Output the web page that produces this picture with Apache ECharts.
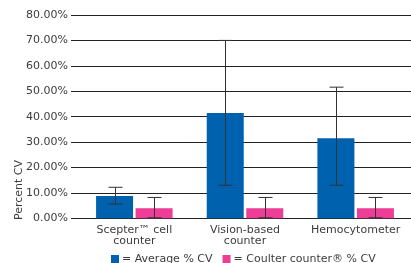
<!DOCTYPE html>
<html>
<head>
<meta charset="utf-8">
<script src="https://cdn.jsdelivr.net/npm/echarts@6/dist/echarts.min.js"></script>
<style>
  html, body { margin: 0; padding: 0; background: #fff; }
  #chart { width: 411px; height: 263px; }
</style>
</head>
<body>
<div id="chart"></div>
<script>
// --- data ---
const categories = ['Scepter™ cell\ncounter', 'Vision-based\ncounter', 'Hemocytometer']
const avgCV = [8.8, 41.4, 31.5]
const avgLow = [5.6, 13.0, 13.0]
const avgHigh = [12.2, 70.0, 51.6]
const coulterCV = [4.0, 4.0, 4.0]
const coulterLow = [0.2, 0.2, 0.2]
const coulterHigh = [8.2, 8.2, 8.2]
const yTicks = [0, 10, 20, 30, 40, 50, 60, 70, 80]

const BLUE = '#0062ae'
const PINK = '#ee3d96'
const TEXT = '#3c3c3c'
const FONT = 'DejaVu Sans'
const barW = 37
const gap = 2.5

const chart = echarts.init(document.getElementById('chart'))

// error bar drawn at a given horizontal offset from the category centre
const errorBars = (low, high, offset) => ({
  type: 'custom',
  silent: true,
  z: 5,
  data: categories.map((c, i) => [i, low[i], high[i]]),
  renderItem: (params, api) => {
    const lo = api.coord([api.value(0), api.value(1)])
    const hi = api.coord([api.value(0), api.value(2)])
    const x = Math.round(lo[0] + offset) + 0.5
    const cap = 7
    const style = { stroke: '#333', lineWidth: 1 }
    return {
      type: 'group',
      children: [
        { type: 'line', shape: { x1: x, y1: hi[1], x2: x, y2: lo[1] }, style },
        { type: 'line', shape: { x1: x - cap, y1: hi[1], x2: x + cap, y2: hi[1] }, style },
        { type: 'line', shape: { x1: x - cap, y1: lo[1], x2: x + cap, y2: lo[1] }, style }
      ]
    }
  }
})

const shift = (barW + gap) / 2

chart.setOption({
  animation: false,
  textStyle: { fontFamily: FONT },
  grid: { left: 79, right: -3, top: 15, bottom: 44.7 },
  xAxis: {
    type: 'category',
    data: categories,
    axisLine: { lineStyle: { color: '#222', width: 1 } },
    axisTick: { show: false },
    axisLabel: { interval: 0, fontSize: 11, color: TEXT, margin: 6, lineHeight: 11, fontFamily: FONT }
  },
  yAxis: {
    type: 'value',
    min: yTicks[0],
    max: yTicks[yTicks.length - 1],
    interval: 10,
    axisLine: { show: false },
    axisTick: { show: true, length: 8, lineStyle: { color: '#222', width: 1 } },
    axisLabel: {
      fontSize: 11, color: TEXT, margin: 11, fontFamily: FONT,
      formatter: (v) => v.toFixed(2) + '%'
    },
    splitLine: { lineStyle: { color: '#222', width: 1 } }
  },
  legend: {
    left: 111,
    top: 253.5,
    padding: 0,
    itemWidth: 8,
    itemHeight: 8,
    itemGap: 10,
    icon: 'rect',
    formatter: (name) => '= ' + name,
    textStyle: { fontSize: 11, lineHeight: 8, color: TEXT, fontFamily: FONT, padding: [0, 0, 0, -2] },
    data: ['Average % CV', 'Coulter counter® % CV']
  },
  graphic: [{
    type: 'text',
    x: 19,
    y: 190,
    rotation: Math.PI / 2,
    style: {
      text: 'Percent CV',
      fontSize: 11,
      fontFamily: FONT,
      fill: TEXT,
      align: 'center',
      verticalAlign: 'middle'
    }
  }],
  series: [
    {
      name: 'Average % CV',
      type: 'bar',
      data: avgCV,
      barWidth: barW,
      barGap: (gap / barW * 100).toFixed(1) + '%',
      itemStyle: { color: BLUE }
    },
    {
      name: 'Coulter counter® % CV',
      type: 'bar',
      data: coulterCV,
      barWidth: barW,
      barGap: (gap / barW * 100).toFixed(1) + '%',
      itemStyle: { color: PINK }
    },
    errorBars(avgLow, avgHigh, -shift),
    errorBars(coulterLow, coulterHigh, shift)
  ]
})
</script>
</body>
</html>
